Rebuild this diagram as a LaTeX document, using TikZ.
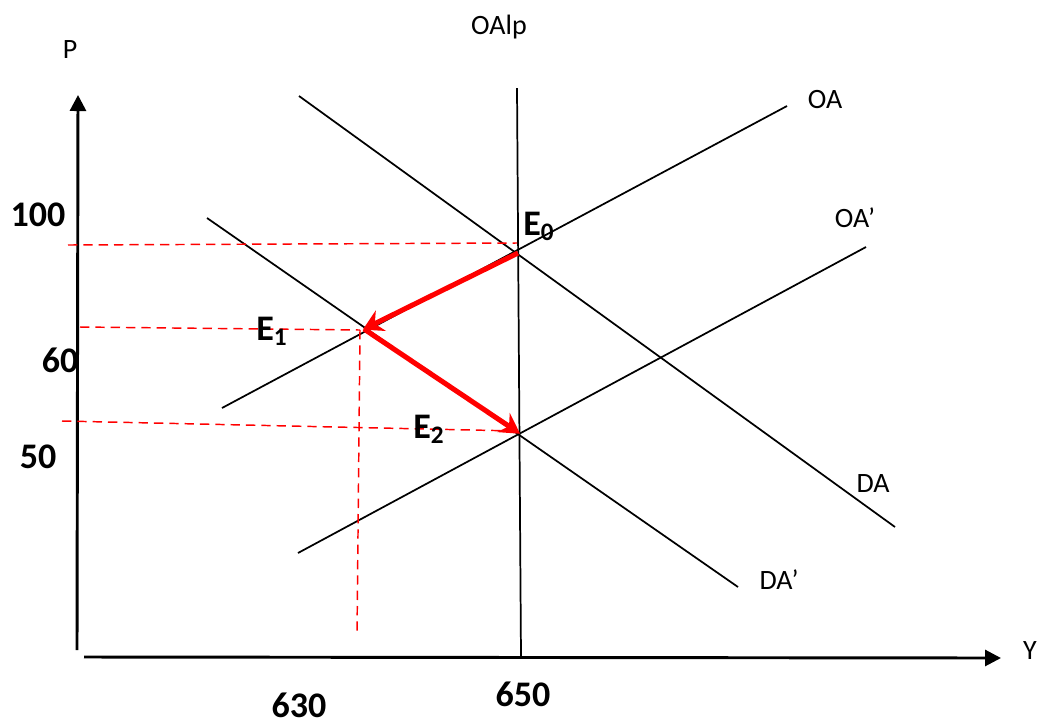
\documentclass[tikz,border=0pt]{standalone}
\usepackage{fontspec}
\setmainfont{Carlito}
\usetikzlibrary{arrows.meta}
\tikzset{
  curve/.style={black, line width=1.3pt},
  axis/.style={black, line width=2.2pt, -{Triangle[length=12pt,width=12pt]}},
  guide/.style={red, line width=1.1pt, dash pattern=on 7pt off 4.5pt},
  move/.style={red, line width=3.8pt, -{Stealth[length=15pt,width=17pt,inset=5pt]}, shorten >=-1pt},
  lab/.style={font=\fontsize{21}{24}\selectfont, inner sep=0pt},
  num/.style={font=\fontsize{27}{30}\selectfont\bfseries, inner sep=0pt},
}
\begin{document}
\begin{tikzpicture}[x=0.75pt,y=-0.75pt]
\useasboundingbox (0,0) rectangle (1042,726);
% axes
\coordinate (yb) at (77,650);
\coordinate (yt) at (78,95);
\coordinate (xl) at (84,657);
\coordinate (xr) at (1001,658);
\draw[axis] (yb) -- (yt);
\draw[axis] (xl) -- (xr);
% curves
\coordinate (lpT) at (517,88);
\coordinate (lpB) at (521,657);
\coordinate (daA) at (299,96);
\coordinate (daB) at (895,527);
\coordinate (dapA) at (207,218);
\coordinate (dapB) at (738,587);
\coordinate (oaA) at (222,408);
\coordinate (oaB) at (787,106);
\coordinate (oapA) at (298,553);
\coordinate (oapB) at (866,247);
\draw[curve] (lpT) -- (lpB);
\draw[curve] (daA) -- (daB);
\draw[curve] (dapA) -- (dapB);
\draw[curve] (oaA) -- (oaB);
\draw[curve] (oapA) -- (oapB);
% equilibria
\coordinate (E0) at (518,253);
\coordinate (E1) at (364,329);
\coordinate (E2) at (519,433);
% guides
\coordinate (g0) at (68,245);
\coordinate (g0r) at (517,243);
\coordinate (g1) at (80,327);
\coordinate (g1r) at (360,330);
\coordinate (g1b) at (357,636);
\coordinate (g2) at (62,421);
\coordinate (g2r) at (517,431);
\draw[guide] (g0) -- (g0r);
\draw[guide] (g1) -- (g1r);
\draw[guide] (g1r) -- (g1b);
\draw[guide] (g2) -- (g2r);
% movements
\draw[move] (E0) -- (E1);
\draw[move] (E1) -- (E2);
% labels
\node[lab] (P) at (70,50) {P};
\node[lab] (Y) at (1030,651) {Y};
\node[lab] (OAlp) at (499,27) {OAlp};
\node[lab] (OA) at (825,100) {OA};
\node[lab] (OAp) at (855,218) {OA’};
\node[lab] (DA) at (873,484) {DA};
\node[lab] (DAp) at (779,580) {DA’};
\node[num] (n100) at (38,215) {100};
\node[num] (n60) at (60,360) {60};
\node[num] (n50) at (38,457) {50};
\node[num] (n630) at (299,705) {630};
\node[num] (n650) at (523,694) {650};
\node[num,anchor=west] (lE0) at (523,226) {E\textsubscript{0}};
\node[num,anchor=west] (lE1) at (256,331) {E\textsubscript{1}};
\node[num,anchor=west] (lE2) at (413,429) {E\textsubscript{2}};
\end{tikzpicture}
\end{document}
